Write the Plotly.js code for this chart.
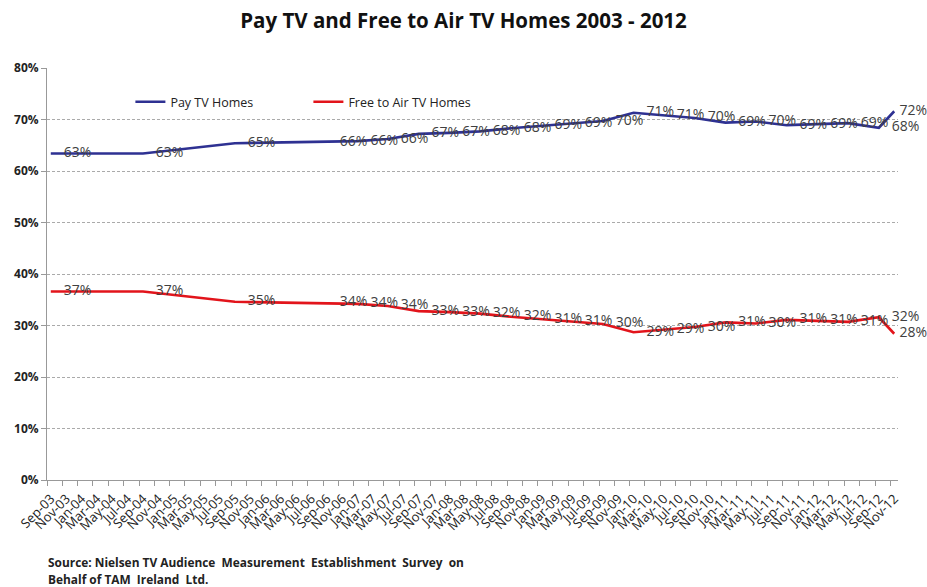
<!DOCTYPE html>
<html>
<head>
<meta charset="utf-8">
<script src="https://cdn.plot.ly/plotly-3.0.1.min.js"></script>
<style>html,body{margin:0;padding:0;background:#fff;}#chart{width:927px;height:587px;}</style>
</head>
<body>
<div id="chart"></div>
<script>
// Survey months (year-month) at which each value was measured
const surveyMonths = ['2003-09','2004-09','2005-09','2006-09','2007-01','2007-05','2007-09','2008-01','2008-05','2008-09','2009-01','2009-05','2009-09','2010-01','2010-05','2010-09','2011-01','2011-05','2011-09','2012-01','2012-05','2012-09','2012-11'];
// Share of TV homes (fractions)
const payTV = [0.634,0.634,0.654,0.656,0.658,0.662,0.672,0.674,0.677,0.683,0.688,0.692,0.697,0.713,0.708,0.703,0.694,0.696,0.689,0.691,0.693,0.684,0.716];
const freeToAir = [0.366,0.366,0.346,0.344,0.342,0.338,0.328,0.326,0.323,0.317,0.312,0.308,0.303,0.287,0.292,0.297,0.306,0.304,0.311,0.309,0.307,0.316,0.284];
// Axis tick labels
const monthLabels = ['Sep-03','Nov-03','Jan-04','Mar-04','May-04','Jul-04','Sep-04','Nov-04','Jan-05','Mar-05','May-05','Jul-05','Sep-05','Nov-05','Jan-06','Mar-06','May-06','Jul-06','Sep-06','Nov-06','Jan-07','Mar-07','May-07','Jul-07','Sep-07','Nov-07','Jan-08','Mar-08','May-08','Jul-08','Sep-08','Nov-08','Jan-09','Mar-09','May-09','Jul-09','Sep-09','Nov-09','Jan-10','Mar-10','May-10','Jul-10','Sep-10','Nov-10','Jan-11','Mar-11','May-11','Jul-11','Sep-11','Nov-11','Jan-12','Mar-12','May-12','Jul-12','Sep-12','Nov-12'];
const yTicks = [0,0.1,0.2,0.3,0.4,0.5,0.6,0.7,0.8];
const seriesNames = ['Pay TV Homes','Free to Air TV Homes'];
const sourceLines = ['Source: Nielsen TV Audience  Measurement  Establishment  Survey  on', 'Behalf of TAM  Ireland  Ltd.'];

const MON = {Jan:'01',Feb:'02',Mar:'03',Apr:'04',May:'05',Jun:'06',Jul:'07',Aug:'08',Sep:'09',Oct:'10',Nov:'11',Dec:'12'};
const tickVals = monthLabels.map(l => '20' + l.slice(4) + '-' + MON[l.slice(0,3)] + '-01');
const xDates = surveyMonths.map(m => m + '-16');

const labelFont = {family:'Open Sans, sans-serif', size:14, color:'#404040'};
function sizes(n){ return Array.from({length:n}, (_, i) => i === n - 1 ? 7 : 19); }

const traces = [
  {x:xDates, y:payTV, name:seriesNames[0], type:'scatter', mode:'lines+markers+text',
   line:{color:'#2E3192', width:2.6}, marker:{size:sizes(payTV.length), color:'rgba(0,0,0,0)', opacity:0, line:{width:0}},
   texttemplate:'%{y:.0%}', textposition:'middle right', textfont:labelFont, cliponaxis:false, hoverinfo:'skip'},
  {x:xDates, y:freeToAir, name:seriesNames[1], type:'scatter', mode:'lines+markers+text',
   line:{color:'#E2141B', width:2.6}, marker:{size:sizes(freeToAir.length), color:'rgba(0,0,0,0)', opacity:0, line:{width:0}},
   texttemplate:'%{y:.0%}', textposition:'middle right', textfont:labelFont, cliponaxis:false, hoverinfo:'skip'}
];

const sourceY = [-0.199, -0.240];
const layout = {
  width:927, height:587,
  margin:{l:47, r:29, t:68, b:107},
  paper_bgcolor:'#fff', plot_bgcolor:'#fff',
  font:{family:'Open Sans, sans-serif', color:'#222'},
  title:{text:'<b>Pay TV and Free to Air TV Homes 2003 - 2012</b>', x:0.5, xanchor:'center', y:0.965, yanchor:'middle',
         font:{family:'Open Sans, sans-serif', size:20.5, color:'#111'}},
  showlegend:true,
  legend:{orientation:'h', x:0.098, xanchor:'left', y:0.917, yanchor:'middle', bgcolor:'rgba(0,0,0,0)',
          font:{family:'Open Sans, sans-serif', size:12.5, color:'#222'}, entrywidthmode:'pixels', entrywidth:133,
          itemwidth:30},
  xaxis:{type:'date', range:['2003-09-01','2012-12-01'], tickmode:'array', tickvals:tickVals, ticktext:monthLabels,
         tickangle:-45, ticklabelshift:4, tickfont:{family:'Open Sans, sans-serif', size:13, color:'#222'},
         ticks:'outside', ticklen:5, tickcolor:'#999', showline:true, linecolor:'#999', linewidth:1,
         showgrid:false, zeroline:false, fixedrange:true},
  yaxis:{range:[0,0.8], tickmode:'array', tickvals:yTicks, tickformat:'.0%',
         tickfont:{family:'Open Sans, sans-serif', size:12, color:'#222', weight:'bold'},
         ticks:'outside', ticklen:5, tickcolor:'#999', showline:true, linecolor:'#999', linewidth:1,
         showgrid:true, gridcolor:'#aaa', griddash:'3px,2px', gridwidth:1, zeroline:false, fixedrange:true},
  annotations: sourceLines.map((t, i) => ({
     text:'<b>' + t + '</b>', xref:'paper', yref:'paper', x:-0.001, xanchor:'left', y:sourceY[i], yanchor:'middle',
     align:'left', showarrow:false, font:{family:'Open Sans, sans-serif', size:11.9, color:'#222'}}))
};

Plotly.newPlot('chart', traces, layout, {displayModeBar:false, staticPlot:true});
</script>
</body>
</html>
